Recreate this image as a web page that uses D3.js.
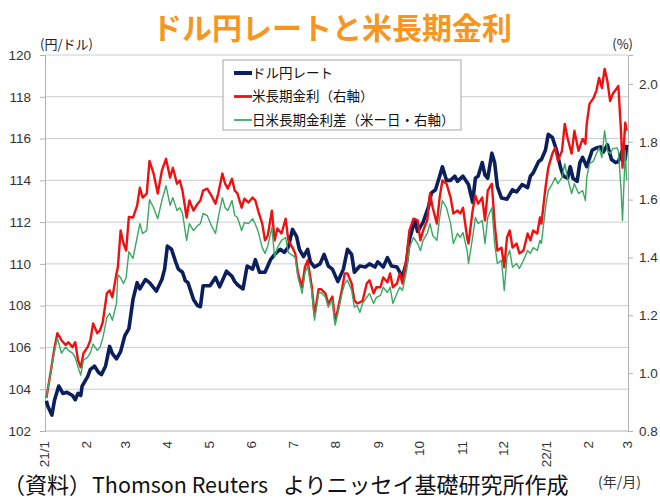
<!DOCTYPE html>
<html>
<head>
<meta charset="utf-8">
<script src="https://cdn.jsdelivr.net/npm/d3@7"></script>
<style>
    body { margin: 0; background: #fff; }
    text { font-family: "Liberation Sans", Arial, sans-serif; }
    .jp { font-family: "Noto Sans CJK JP", sans-serif; }
</style>
</head>
<body>
<svg id="chart" width="660" height="500"></svg>
<script>
// ドル円レート (left axis)
const fxDates = [
    "2021-01-02", "2021-01-03", "2021-01-06", "2021-01-08", "2021-01-11", "2021-01-14", "2021-01-17", "2021-01-21",
    "2021-01-23", "2021-01-25", "2021-01-27", "2021-01-28", "2021-02-01", "2021-02-03", "2021-02-06", "2021-02-09",
    "2021-02-11", "2021-02-14", "2021-02-17", "2021-02-19", "2021-02-22", "2021-02-25", "2021-02-28", "2021-03-03",
    "2021-03-06", "2021-03-09", "2021-03-11", "2021-03-15", "2021-03-18", "2021-03-23", "2021-03-27", "2021-03-29",
    "2021-03-31", "2021-04-03", "2021-04-06", "2021-04-08", "2021-04-11", "2021-04-13", "2021-04-15", "2021-04-19",
    "2021-04-22", "2021-04-24", "2021-04-26", "2021-05-01", "2021-05-05", "2021-05-08", "2021-05-13", "2021-05-17",
    "2021-05-19", "2021-05-21", "2021-05-25", "2021-05-28", "2021-06-01", "2021-06-03", "2021-06-06", "2021-06-10",
    "2021-06-14", "2021-06-17", "2021-06-21", "2021-06-24", "2021-06-27", "2021-06-30", "2021-07-03", "2021-07-05",
    "2021-07-08", "2021-07-11", "2021-07-13", "2021-07-16", "2021-07-20", "2021-07-23", "2021-07-26", "2021-07-29",
    "2021-08-02", "2021-08-06", "2021-08-09", "2021-08-12", "2021-08-14", "2021-08-18", "2021-08-22", "2021-08-25",
    "2021-08-29", "2021-08-31", "2021-09-04", "2021-09-07", "2021-09-10", "2021-09-14", "2021-09-16", "2021-09-18",
    "2021-09-21", "2021-09-23", "2021-09-27", "2021-09-29", "2021-10-03", "2021-10-07", "2021-10-09", "2021-10-12",
    "2021-10-15", "2021-10-17", "2021-10-20", "2021-10-23", "2021-10-26", "2021-10-28", "2021-11-01", "2021-11-05",
    "2021-11-08", "2021-11-10", "2021-11-12", "2021-11-15", "2021-11-17", "2021-11-19", "2021-11-22", "2021-11-24",
    "2021-11-26", "2021-11-29", "2021-12-03", "2021-12-07", "2021-12-10", "2021-12-14", "2021-12-18", "2021-12-20",
    "2021-12-22", "2021-12-26", "2021-12-28", "2021-12-31", "2022-01-02", "2022-01-05", "2022-01-08", "2022-01-11",
    "2022-01-13", "2022-01-16", "2022-01-18", "2022-01-20", "2022-01-23", "2022-01-25", "2022-01-27", "2022-01-30",
    "2022-02-03", "2022-02-06", "2022-02-09", "2022-02-11", "2022-02-14", "2022-02-17", "2022-02-20", "2022-02-22",
    "2022-02-25", "2022-02-27", "2022-02-28"
];
const usdJpy = [
    103.45, 103.2, 102.76, 103.5, 104.15, 103.8, 103.85, 103.7,
    103.5, 103.8, 103.7, 104.15, 104.6, 104.95, 105.1, 104.8,
    104.7, 105.1, 106.05, 105.7, 105.45, 105.8, 106.55, 106.9,
    108.3, 109.1, 108.8, 109.25, 109.1, 108.7, 109.25, 109.75,
    110.85, 110.7, 110.1, 109.75, 109.6, 109.2, 109.1, 108.3,
    108.0, 107.95, 108.95, 108.95, 109.35, 108.9, 109.65, 109.4,
    109.15, 109.0, 108.8, 109.9, 109.75, 110.2, 109.6, 109.6,
    110.2, 110.45, 110.7, 110.55, 110.8, 111.65, 111.3, 110.7,
    110.35, 110.7, 110.1, 109.85, 110.0, 110.45, 109.9, 109.75,
    109.15, 109.75, 110.7, 110.45, 109.6, 109.9, 109.85, 110.0,
    109.85, 110.1, 109.85, 110.3, 109.9, 109.85, 109.6, 109.4,
    110.1, 111.15, 112.1, 111.55, 112.0, 112.75, 113.4, 113.55,
    114.2, 114.65, 114.0, 114.0, 114.2, 113.95, 114.2, 113.8,
    112.95, 114.1, 114.2, 114.85, 114.25, 114.1, 115.3, 114.85,
    113.7, 113.15, 113.1, 113.55, 113.45, 113.8, 113.65, 114.2,
    114.35, 114.9, 115.0, 115.45, 116.2, 116.05, 115.45, 114.6,
    114.2, 114.1, 114.65, 114.1, 113.95, 114.85, 115.1, 114.65,
    115.45, 115.55, 115.6, 115.35, 115.7, 115.0, 114.85, 114.9,
    115.45, 115.0, 115.7
];

// 米長期金利 and 日米長期金利差 (right axis, %)
const rateDates = [
    "2021-01-02", "2021-01-05", "2021-01-08", "2021-01-10", "2021-01-13", "2021-01-16", "2021-01-18", "2021-01-21",
    "2021-01-23", "2021-01-25", "2021-01-27", "2021-01-29", "2021-02-01", "2021-02-03", "2021-02-05", "2021-02-08",
    "2021-02-10", "2021-02-12", "2021-02-15", "2021-02-17", "2021-02-19", "2021-02-22", "2021-02-23", "2021-02-25",
    "2021-02-27", "2021-03-01", "2021-03-03", "2021-03-06", "2021-03-09", "2021-03-11", "2021-03-13", "2021-03-16",
    "2021-03-18", "2021-03-21", "2021-03-24", "2021-03-27", "2021-03-30", "2021-04-02", "2021-04-04", "2021-04-07",
    "2021-04-09", "2021-04-11", "2021-04-14", "2021-04-16", "2021-04-19", "2021-04-22", "2021-04-24", "2021-04-26",
    "2021-04-29", "2021-05-02", "2021-05-05", "2021-05-07", "2021-05-10", "2021-05-12", "2021-05-14", "2021-05-17",
    "2021-05-19", "2021-05-21", "2021-05-24", "2021-05-26", "2021-05-29", "2021-06-01", "2021-06-03", "2021-06-05",
    "2021-06-08", "2021-06-10", "2021-06-12", "2021-06-15", "2021-06-17", "2021-06-19", "2021-06-22", "2021-06-25",
    "2021-06-27", "2021-06-30", "2021-07-02", "2021-07-04", "2021-07-07", "2021-07-09", "2021-07-11", "2021-07-14",
    "2021-07-16", "2021-07-19", "2021-07-21", "2021-07-24", "2021-07-26", "2021-07-29", "2021-07-31", "2021-08-02",
    "2021-08-05", "2021-08-07", "2021-08-09", "2021-08-12", "2021-08-14", "2021-08-16", "2021-08-18", "2021-08-20",
    "2021-08-23", "2021-08-25", "2021-08-28", "2021-08-30", "2021-09-02", "2021-09-04", "2021-09-07", "2021-09-09",
    "2021-09-11", "2021-09-14", "2021-09-16", "2021-09-18", "2021-09-21", "2021-09-23", "2021-09-26", "2021-09-29",
    "2021-10-01", "2021-10-03", "2021-10-06", "2021-10-08", "2021-10-10", "2021-10-13", "2021-10-15", "2021-10-17",
    "2021-10-20", "2021-10-23", "2021-10-25", "2021-10-28", "2021-10-30", "2021-11-01", "2021-11-04", "2021-11-05",
    "2021-11-08", "2021-11-10", "2021-11-12", "2021-11-15", "2021-11-17", "2021-11-19", "2021-11-22", "2021-11-24",
    "2021-11-26", "2021-11-29", "2021-12-01", "2021-12-03", "2021-12-05", "2021-12-07", "2021-12-10", "2021-12-12",
    "2021-12-15", "2021-12-18", "2021-12-20", "2021-12-22", "2021-12-25", "2021-12-27", "2021-12-28", "2021-12-31",
    "2022-01-02", "2022-01-05", "2022-01-07", "2022-01-09", "2022-01-12", "2022-01-14", "2022-01-16", "2022-01-19",
    "2022-01-21", "2022-01-24", "2022-01-27", "2022-01-29", "2022-01-30", "2022-02-01", "2022-02-04", "2022-02-06",
    "2022-02-08", "2022-02-10", "2022-02-12", "2022-02-14", "2022-02-16", "2022-02-18", "2022-02-21", "2022-02-22",
    "2022-02-24", "2022-02-25", "2022-02-27", "2022-02-28"
];
const usYield = [
    0.914, 1.00, 1.09, 1.138, 1.114, 1.097, 1.107, 1.09,
    1.107, 1.045, 1.02, 1.069, 1.09, 1.114, 1.172, 1.138,
    1.148, 1.176, 1.276, 1.286, 1.262, 1.345, 1.366, 1.493,
    1.45, 1.424, 1.54, 1.538, 1.579, 1.641, 1.607, 1.621,
    1.734, 1.69, 1.621, 1.70, 1.741, 1.676, 1.71, 1.655,
    1.666, 1.631, 1.538, 1.597, 1.562, 1.586, 1.597, 1.631,
    1.638, 1.614, 1.586, 1.621, 1.69, 1.655, 1.638, 1.672,
    1.631, 1.621, 1.572, 1.603, 1.59, 1.607, 1.597, 1.562,
    1.517, 1.459, 1.476, 1.562, 1.459, 1.50, 1.483, 1.534,
    1.459, 1.434, 1.414, 1.345, 1.297, 1.366, 1.39, 1.30,
    1.20, 1.29, 1.29, 1.275, 1.24, 1.265, 1.18, 1.22,
    1.29, 1.345, 1.345, 1.31, 1.252, 1.241, 1.245, 1.25,
    1.31, 1.321, 1.276, 1.297, 1.297, 1.331, 1.314, 1.345,
    1.297, 1.31, 1.345, 1.31, 1.40, 1.493, 1.534, 1.528,
    1.459, 1.493, 1.528, 1.621, 1.572, 1.517, 1.607, 1.666,
    1.655, 1.607, 1.552, 1.562, 1.552, 1.572, 1.469, 1.448,
    1.562, 1.614, 1.586, 1.607, 1.528, 1.631, 1.655, 1.517,
    1.424, 1.434, 1.366, 1.469, 1.493, 1.434, 1.448, 1.414,
    1.424, 1.483, 1.459, 1.493, 1.483, 1.538, 1.517, 1.641,
    1.71, 1.759, 1.779, 1.734, 1.769, 1.862, 1.814, 1.759,
    1.838, 1.769, 1.81, 1.793, 1.862, 1.931, 1.952, 1.976,
    2.021, 1.986, 2.052, 2.01, 1.941, 1.966, 1.986, 1.993,
    1.828, 1.71, 1.866, 1.838
];
const spread = [
    0.914, 1.00, 1.079, 1.121, 1.069, 1.09, 1.079, 1.069,
    1.055, 1.021, 0.993, 1.045, 1.055, 1.07, 1.10, 1.079,
    1.09, 1.12, 1.193, 1.207, 1.183, 1.241, 1.34, 1.33,
    1.31, 1.33, 1.42, 1.397, 1.469, 1.517, 1.483, 1.493,
    1.60, 1.572, 1.534, 1.597, 1.648, 1.58, 1.607, 1.562,
    1.572, 1.552, 1.459, 1.517, 1.493, 1.51, 1.517, 1.552,
    1.545, 1.51, 1.483, 1.538, 1.607, 1.572, 1.562, 1.597,
    1.545, 1.538, 1.493, 1.521, 1.517, 1.534, 1.515, 1.49,
    1.434, 1.414, 1.44, 1.503, 1.40, 1.434, 1.459, 1.469,
    1.417, 1.407, 1.40, 1.331, 1.276, 1.345, 1.37, 1.286,
    1.183, 1.276, 1.279, 1.262, 1.228, 1.252, 1.166, 1.207,
    1.276, 1.31, 1.321, 1.286, 1.228, 1.234, 1.21, 1.241,
    1.262, 1.276, 1.241, 1.262, 1.269, 1.297, 1.279, 1.297,
    1.241, 1.276, 1.297, 1.286, 1.355, 1.434, 1.469, 1.448,
    1.424, 1.459, 1.483, 1.517, 1.476, 1.459, 1.538, 1.597,
    1.572, 1.517, 1.448, 1.483, 1.469, 1.486, 1.424, 1.379,
    1.469, 1.538, 1.517, 1.528, 1.448, 1.538, 1.572, 1.448,
    1.379, 1.39, 1.286, 1.40, 1.424, 1.366, 1.379, 1.362,
    1.39, 1.424, 1.414, 1.434, 1.424, 1.459, 1.448, 1.572,
    1.631, 1.655, 1.676, 1.655, 1.676, 1.724, 1.676, 1.621,
    1.655, 1.621, 1.631, 1.597, 1.676, 1.724, 1.734, 1.759,
    1.779, 1.745, 1.838, 1.769, 1.759, 1.776, 1.779, 1.769,
    1.631, 1.528, 1.769, 1.666
];

// axis ticks
const leftTicks = [102, 104, 106, 108, 110, 112, 114, 116, 118, 120];
const rightTicks = [0.8, 1.0, 1.2, 1.4, 1.6, 1.8, 2.0];
const monthTicks = ["2021-01-01", "2021-02-01", "2021-03-01", "2021-04-01", "2021-05-01", "2021-06-01", "2021-07-01",
    "2021-08-01", "2021-09-01", "2021-10-01", "2021-11-01", "2021-12-01", "2022-01-01", "2022-02-01", "2022-03-01"];
const monthLabels = ["21/1", "2", "3", "4", "5", "6", "7", "8", "9", "10", "11", "12", "22/1", "2", "3"];

const seriesNames = ["ドル円レート", "米長期金利（右軸）", "日米長期金利差（米ー日・右軸）"];
const colors = ["#0b1f5c", "#ee1111", "#3aa863"];
const widths = [3.6, 2.4, 1.4];

const parseDate = d3.timeParse("%Y-%m-%d");

// plot area
const plot = { left: 45, right: 628, top: 55, bottom: 431 };

const x = d3.scaleTime()
    .domain([parseDate("2021-01-01"), parseDate("2022-03-01")])
    .range([plot.left, plot.right]);

const yL = d3.scaleLinear().domain([102, 120]).range([plot.bottom, plot.top]);
const yR = d3.scaleLinear().domain([0.8, 2.1]).range([plot.bottom, plot.top]);

let svg = d3.select("#chart");

svg.append("rect").attr("width", 660).attr("height", 500).attr("fill", "#fff");

// title
svg.append("text")
    .attr("class", "jp")
    .attr("x", 332).attr("y", 39)
    .attr("text-anchor", "middle")
    .style("font-size", "30px")
    .style("font-weight", "bold")
    .attr("fill", "#f7961e")
    .text("ドル円レートと米長期金利");

// units
svg.append("text").attr("class", "jp")
    .attr("x", 40).attr("y", 49)
    .style("font-size", "13px").attr("fill", "#222")
    .text("(円/ドル)");
svg.append("text").attr("class", "jp")
    .attr("x", 633).attr("y", 49)
    .attr("text-anchor", "end")
    .style("font-size", "13px").attr("fill", "#222")
    .text("(%)");

// gridlines
svg.selectAll(".grid")
    .data(leftTicks)
    .enter().append("line")
    .attr("class", "grid")
    .attr("x1", plot.left).attr("x2", plot.right)
    .attr("y1", d => yL(d)).attr("y2", d => yL(d))
    .attr("stroke", d => d === 102 ? "#b0b0b0" : "#cccccc");

// left axis
svg.append("g")
    .attr("transform", "translate(" + plot.left + ",0)")
    .call(d3.axisLeft(yL).tickValues(leftTicks).tickSize(5).tickPadding(9))
    .call(g => g.select(".domain").attr("stroke", "#b0b0b0"))
    .call(g => g.selectAll("line").attr("stroke", "#b0b0b0"))
    .call(g => g.selectAll("text").style("font-size", "13.5px").attr("fill", "#333"));

// right axis
svg.append("g")
    .attr("transform", "translate(" + plot.right + ",0)")
    .call(d3.axisRight(yR).tickValues(rightTicks).tickSize(5).tickPadding(6).tickFormat(d3.format(".1f")))
    .call(g => g.select(".domain").attr("stroke", "#b0b0b0"))
    .call(g => g.selectAll("line").attr("stroke", "#b0b0b0"))
    .call(g => g.selectAll("text").style("font-size", "13.5px").attr("fill", "#333"));

// month labels, vertical
svg.selectAll(".month")
    .data(monthTicks)
    .enter().append("text")
    .attr("class", "month")
    .attr("transform", d => "translate(" + (x(parseDate(d)) - 1) + "," + (plot.bottom + 10) + ") rotate(-90)")
    .attr("text-anchor", "end")
    .attr("dy", "0.35em")
    .style("font-size", "13.5px")
    .attr("fill", "#333")
    .text((d, i) => monthLabels[i]);

// lines
const fxData = fxDates.map((d, i) => ({ date: parseDate(d), value: usdJpy[i] }));
const usData = rateDates.map((d, i) => ({ date: parseDate(d), value: usYield[i] }));
const spData = rateDates.map((d, i) => ({ date: parseDate(d), value: spread[i] }));

const lineL = d3.line().x(d => x(d.date)).y(d => yL(d.value));
const lineR = d3.line().x(d => x(d.date)).y(d => yR(d.value));

svg.append("path").datum(fxData)
    .attr("d", lineL).attr("fill", "none")
    .attr("stroke", colors[0]).attr("stroke-width", widths[0]).attr("stroke-linejoin", "round");
svg.append("path").datum(usData)
    .attr("d", lineR).attr("fill", "none")
    .attr("stroke", colors[1]).attr("stroke-width", widths[1]).attr("stroke-linejoin", "round");
svg.append("path").datum(spData)
    .attr("d", lineR).attr("fill", "none")
    .attr("stroke", colors[2]).attr("stroke-width", widths[2]).attr("stroke-linejoin", "round");

// legend
let legend = svg.append("g");
legend.append("rect")
    .attr("x", 223).attr("y", 60)
    .attr("width", 238).attr("height", 70)
    .attr("fill", "#fff").attr("stroke", "#a6a6a6");

let item = legend.selectAll(".item")
    .data(seriesNames)
    .enter().append("g")
    .attr("class", "item")
    .attr("transform", (d, i) => "translate(0," + (73 + i * 23.5) + ")");

item.append("line")
    .attr("x1", 234).attr("x2", 252)
    .attr("stroke", (d, i) => colors[i])
    .attr("stroke-width", (d, i) => widths[i] + 0.4);

item.append("text")
    .attr("class", "jp")
    .attr("x", 252).attr("dy", "0.35em")
    .style("font-size", "13.5px")
    .attr("fill", "#111")
    .text(d => d);

// source and axis unit
svg.append("text").attr("class", "jp")
    .attr("x", 598).attr("y", 487)
    .style("font-size", "14px").attr("fill", "#333")
    .text("(年/月)");

let src = svg.append("text").attr("class", "jp")
    .attr("y", 493).style("font-size", "22px").attr("fill", "#111");
src.append("tspan").attr("x", 3).text("（資料）");
src.append("tspan").attr("x", 92).attr("textLength", 176).attr("lengthAdjust", "spacingAndGlyphs").text("Thomson Reuters");
src.append("tspan").attr("x", 283).text("よりニッセイ基礎研究所作成");
</script>
</body>
</html>
